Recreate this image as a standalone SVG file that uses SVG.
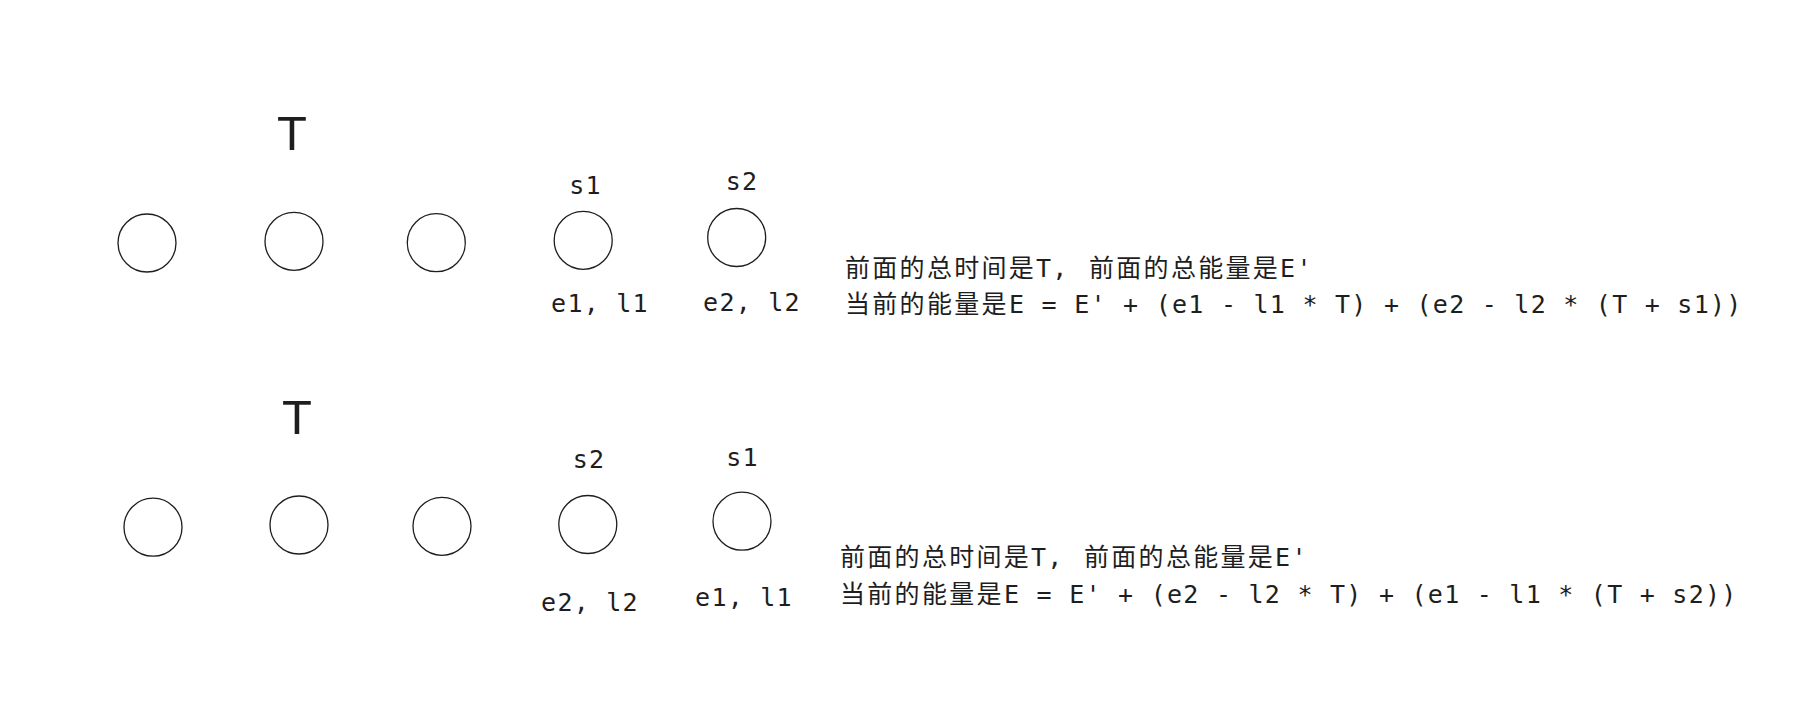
<svg xmlns="http://www.w3.org/2000/svg" width="1813" height="723" viewBox="0 0 1813 723">
<style>
.bg{fill:#ffffff}
.node circle{fill:none;stroke:#1e1e1e;stroke-width:1.3}
.big{font-family:"Liberation Sans",Arial,sans-serif;font-size:49px;fill:#1e1e1e;text-anchor:middle}
.lbl{font-family:"DejaVu Sans Mono","Noto Sans CJK SC",monospace;font-size:25px;letter-spacing:1.25px;fill:#1e1e1e;text-anchor:middle}
.eq{font-family:"DejaVu Sans Mono","Noto Sans CJK SC",monospace;font-size:25px;letter-spacing:1.25px;fill:#1e1e1e}
.cjk{font-family:"Noto Sans CJK SC",sans-serif;letter-spacing:2.3px}
</style>
<rect class="bg" x="0" y="0" width="1813" height="723"/>
<g id="connectors"></g>

<g id="row1">
  <text class="big" x="292" y="150">T</text>
  <g id="r1n1" class="node"><circle cx="147" cy="243" r="29"/></g>
  <g id="r1n2" class="node"><circle cx="294" cy="241.3" r="29"/></g>
  <g id="r1n3" class="node"><circle cx="436.3" cy="242.7" r="29"/></g>
  <g id="r1n4" class="node"><circle cx="583.2" cy="240.3" r="29"/>
    <text class="lbl" x="585.5" y="194">s1</text>
    <text class="lbl" x="600" y="311.5">e1, l1</text>
  </g>
  <g id="r1n5" class="node"><circle cx="736.7" cy="237.5" r="29"/>
    <text class="lbl" x="742" y="190">s2</text>
    <text class="lbl" x="752" y="310.5">e2, l2</text>
  </g>
  <g id="r1text">
    <text class="eq" y="276.5"><tspan class="cjk" x="845">前面的总时间是</tspan><tspan x="1036">T,</tspan><tspan class="cjk" x="1089">前面的总能量是</tspan><tspan>E'</tspan></text>
    <text class="eq" y="312.5"><tspan class="cjk" x="845">当前的能量是</tspan><tspan x="1009">E = E' + (e1 - l1 * T) + (e2 - l2 * (T + s1))</tspan></text>
  </g>
</g>

<g id="row2">
  <text class="big" x="297" y="434">T</text>
  <g id="r2n1" class="node"><circle cx="153" cy="527.2" r="29"/></g>
  <g id="r2n2" class="node"><circle cx="299" cy="525" r="29"/></g>
  <g id="r2n3" class="node"><circle cx="442" cy="526.3" r="29"/></g>
  <g id="r2n4" class="node"><circle cx="587.8" cy="524.5" r="29"/>
    <text class="lbl" x="589" y="468.3">s2</text>
    <text class="lbl" x="590" y="610.7">e2, l2</text>
  </g>
  <g id="r2n5" class="node"><circle cx="742" cy="521.2" r="29"/>
    <text class="lbl" x="742.5" y="466">s1</text>
    <text class="lbl" x="744" y="606">e1, l1</text>
  </g>
  <g id="r2text">
    <text class="eq" y="565.5"><tspan class="cjk" x="840">前面的总时间是</tspan><tspan x="1031">T,</tspan><tspan class="cjk" x="1084">前面的总能量是</tspan><tspan>E'</tspan></text>
    <text class="eq" y="602.5"><tspan class="cjk" x="840">当前的能量是</tspan><tspan x="1004">E = E' + (e2 - l2 * T) + (e1 - l1 * (T + s2))</tspan></text>
  </g>
</g>
</svg>
